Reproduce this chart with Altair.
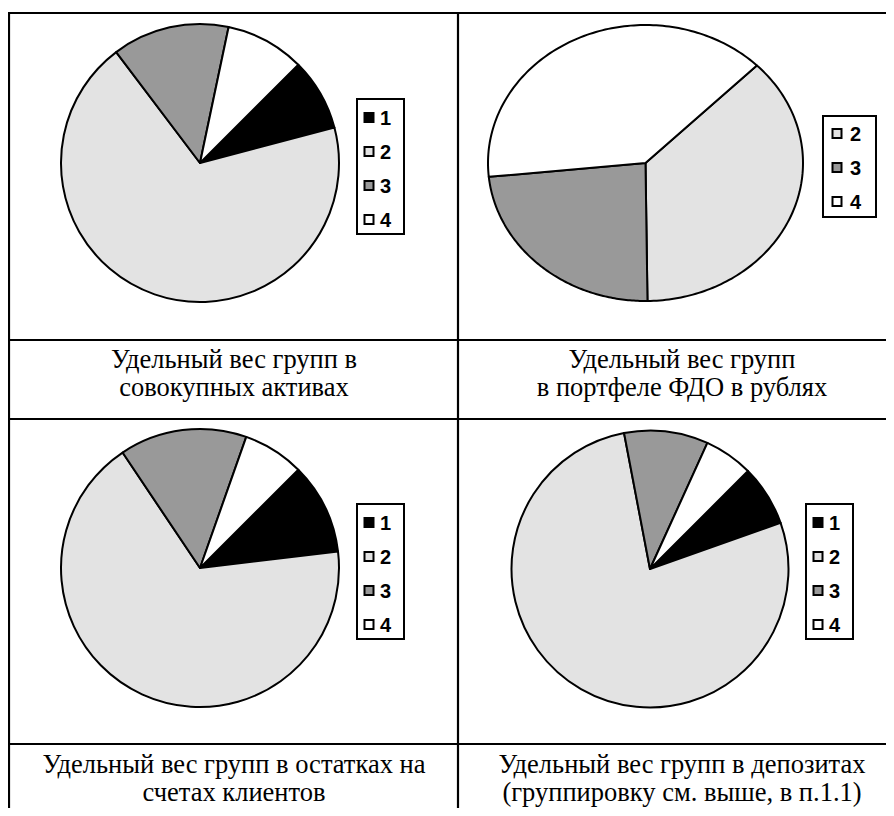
import math
import altair as alt
import pandas as pd

# ---------------- data ----------------
groups_all = ["1", "2", "3", "4"]
group_colors = ["#000000", "#e3e3e3", "#999999", "#ffffff"]

assets_groups = ["1", "2", "3", "4"]
assets_share = [8.4, 68.8, 13.6, 9.2]

fdo_groups = ["2", "3", "4"]
fdo_share = [37.3, 23.6, 39.1]

balances_groups = ["1", "2", "3", "4"]
balances_share = [10.6, 67.5, 14.8, 7.1]

deposits_groups = ["1", "2", "3", "4"]
deposits_share = [7.1, 77.4, 9.8, 5.7]

captions = [
    ["Удельный вес групп в", "совокупных активах"],
    ["Удельный вес групп", "в портфеле ФДО в рублях"],
    ["Удельный вес групп в остатках на", "счетах клиентов"],
    ["Удельный вес групп в депозитах", "(группировку см. выше, в п.1.1)"],
]

# ---------------- layout ----------------
W, H = 878, 800
START_DEG = 45
SERIF = "Liberation Serif"
SANS = "Liberation Sans"
color_scale = alt.Scale(domain=groups_all, range=group_colors)
base = alt.Chart(pd.DataFrame({"d": [0]}))


def rule(x, x2, y, y2):
    return base.mark_rule(color="black", strokeWidth=2.2).encode(
        x=alt.value(x), x2=alt.value(x2), y=alt.value(y), y2=alt.value(y2)
    )


def pie(groups, shares, cx, cy, r):
    df = pd.DataFrame({"group": groups, "share": shares})
    a0 = math.radians(START_DEG)
    return alt.Chart(df).mark_arc(
        radius=r, stroke="black", strokeWidth=2, strokeJoin="round"
    ).encode(
        theta=alt.Theta("share:Q", stack=True,
                        scale=alt.Scale(range=[a0, a0 + 2 * math.pi])),
        fill=alt.Fill("group:N", scale=color_scale, legend=None),
        order=alt.Order("group:N"),
        x=alt.value(cx),
        y=alt.value(cy),
    )


def ellipse_pie(groups, shares, cx, cy, rx, ry, n=120):
    df = pd.DataFrame({"group": groups, "share": shares})
    a0 = math.radians(START_DEG)
    return alt.Chart(df).transform_joinaggregate(
        total="sum(share)"
    ).transform_window(
        cum="sum(share)", sort=[alt.SortField("group")], frame=[None, 0]
    ).transform_calculate(
        b0=f"{a0} + 2*PI*(datum.cum - datum.share)/datum.total",
        b1=f"{a0} + 2*PI*datum.cum/datum.total",
        k=f"sequence(0, {n + 3})",
    ).transform_flatten(["k"]).transform_calculate(
        t=f"clamp((datum.k - 1)/{n}, 0, 1)",
        ang="datum.b0 + datum.t*(datum.b1 - datum.b0)",
        rr=f"(datum.k == 0 || datum.k == {n + 2}) ? 0 : 1",
        px=f"{cx} + {rx}*datum.rr*sin(datum.ang)",
        py=f"{cy} - {ry}*datum.rr*cos(datum.ang)",
    ).mark_line(
        stroke="black", strokeWidth=2, interpolate="linear-closed", strokeJoin="round"
    ).encode(
        x=alt.X("px:Q", scale=None),
        y=alt.Y("py:Q", scale=None),
        fill=alt.Fill("group:N", scale=color_scale, legend=None),
        order=alt.Order("k:Q"),
        detail="group:N",
    )


def legend(groups, left, top, width, height, sw_dx, txt_dx, first=18.5, step=34):
    box = base.mark_rect(fill="white", stroke="black", strokeWidth=2).encode(
        x=alt.value(left), x2=alt.value(left + width),
        y=alt.value(top), y2=alt.value(top + height),
    )
    df = pd.DataFrame({"group": groups})
    items = alt.Chart(df).transform_window(idx="row_number()").transform_calculate(
        ly=f"{top + first} + {step}*(datum.idx - 1)",
        sx=f"{left + sw_dx}",
        tx=f"{left + txt_dx}",
    )
    sq = items.mark_square(size=81, stroke="black", strokeWidth=2, opacity=1).encode(
        x=alt.X("sx:Q", scale=None), y=alt.Y("ly:Q", scale=None),
        fill=alt.Fill("group:N", scale=color_scale, legend=None),
    )
    tx = items.mark_text(
        font=SANS, fontSize=20, fontWeight="bold", align="left",
        baseline="middle", color="black", dy=1,
    ).encode(
        x=alt.X("tx:Q", scale=None), y=alt.Y("ly:Q", scale=None), text="group:N",
    )
    return [box, sq, tx]


def caption(lines, x, y, lh):
    df = pd.DataFrame({"t": [lines]})
    return alt.Chart(df).mark_text(
        font=SERIF, fontSize=26.5, lineHeight=lh, align="center",
        baseline="alphabetic", color="black",
    ).encode(x=alt.value(x), y=alt.value(y), text="t")


layers = [
    rule(0, W, 5, 5),
    rule(1, 1, 5, H),
    rule(450, 450, 5, H),
    rule(0, W, 332, 332),
    rule(0, W, 411, 411),
    rule(0, W, 736, 736),
    pie(assets_groups, assets_share, 192, 155, 139),
    ellipse_pie(fdo_groups, fdo_share, 637.5, 155, 157.5, 138),
    pie(balances_groups, balances_share, 192, 560, 139),
    pie(deposits_groups, deposits_share, 642, 561, 138.5),
]
layers += legend(assets_groups, 349, 91, 47, 135, 12, 23)
layers += legend(fdo_groups, 815, 108, 53, 101, 14, 27, first=17.5)
layers += legend(balances_groups, 349, 496, 47, 135, 12, 23)
layers += legend(deposits_groups, 798, 496, 47, 135, 12, 23)
layers += [
    caption(captions[0], 226, 360, 28),
    caption(captions[1], 674, 360, 28),
    caption(captions[2], 226, 765, 28),
    caption(captions[3], 674, 765, 28),
]

chart = alt.layer(*layers).resolve_scale(theta="independent").properties(
    width=W, height=H, padding=0, autosize="none", background="white"
).configure_view(stroke=None)

chart.save("out.html", embed_options={"renderer": "svg", "actions": False})
